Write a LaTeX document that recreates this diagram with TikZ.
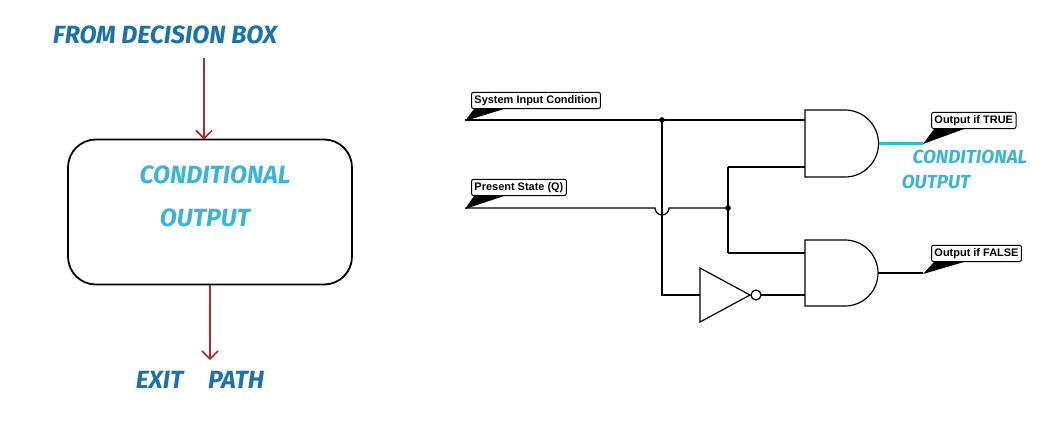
\documentclass[tikz,border=0pt]{standalone}
\usetikzlibrary{arrows.meta}
\usepackage{fontspec}
\setmainfont{Liberation Sans}
\newfontfamily\hand{Fira Sans}
\definecolor{hblue}{HTML}{1C72A8}
\definecolor{hcyan}{HTML}{3DB4D4}
\definecolor{hred}{HTML}{B02828}
\begin{document}
\begin{tikzpicture}[x=1bp,y=-1bp,
  htext/.style={font=\hand\bfseries\itshape\fontsize{25}{27}\selectfont,text=hblue},
  ctext/.style={font=\hand\bfseries\itshape\fontsize{19}{21}\selectfont,text=hcyan},
  lbl/.style={draw,rounded corners=2pt,font=\bfseries\fontsize{11}{12}\selectfont,inner sep=3pt,anchor=south west,line width=1pt},
  wire/.style={line width=1.2pt},
  harr/.style={draw=hred,line width=1.6pt,-{Straight Barb[length=8pt]}}]
\useasboundingbox (0,0) rectangle (1064,424);
% left flowchart
\node[htext] (from) at (165,35) {FROM DECISION BOX};
\node[draw,line width=1.8pt,rounded corners=28pt,minimum width=284bp,minimum height=145bp] (box) at (210,212) {};
\node[ctext,font=\hand\bfseries\itshape\fontsize{25}{27}\selectfont] (c1) at (215,175) {CONDITIONAL};
\node[ctext,font=\hand\bfseries\itshape\fontsize{25}{27}\selectfont] (c2) at (205,218) {OUTPUT};
\coordinate (a1) at (204,58);
\coordinate (a1e) at (204,139.5);
\draw[harr] (a1) -- (a1e);
\coordinate (a2) at (210,285);
\coordinate (a3) at (210,360);
\draw[harr] (a2) -- (a3);
\node[htext] (exit) at (200,380) {EXIT\quad PATH};
% labels
\node[lbl] (sic) at (471,109) {System Input Condition};
\node[lbl] (ps) at (471,196) {Present State (Q)};
\node[lbl] (ot) at (931,129) {Output if TRUE};
\node[lbl] (of) at (931,262) {Output if FALSE};
\fill (sic.south west)++(3,0) -- ++(30,0) -- (465,121) -- cycle;
\fill (ps.south west)++(3,0) -- ++(30,0) -- (465,209) -- cycle;
\fill (ot.south west)++(3,0) -- ++(30,0) -- (923,144) -- cycle;
\fill (of.south west)++(3,0) -- ++(30,0) -- (923,274) -- cycle;
% gates
\draw[wire] (805,110) -- (845,110) arc (-90:90:33.5) -- (805,177) -- cycle;
\draw[wire] (805,240) -- (845,240) arc (-90:90:33) -- (805,306) -- cycle;
\draw[wire] (700,268) -- (750,295) -- (700,322) -- cycle;
\draw[wire] (756,295) circle (5);
% wires
\draw[wire] (465,120) -- (805,120);
\fill (662,120) circle (2.8);
\draw[wire] (662,120) -- (662,295) -- (700,295);
\draw[wire] (465,208) -- (655,208) arc (180:0:7) -- (728,208);
\fill (728,208) circle (2.8);
\draw[wire] (728,167) -- (728,253);
\draw[wire] (728,167) -- (805,167);
\draw[wire] (728,253) -- (805,253);
\draw[wire] (761,295) -- (805,295);
\draw[wire] (878,273) -- (923,273);
\draw[line width=2.2pt,hcyan] (878.5,143.5) -- (923,143.5);
\node[ctext] (co1) at (970,157) {CONDITIONAL};
\node[ctext] (co2) at (936,182) {OUTPUT};
\end{tikzpicture}
\end{document}
